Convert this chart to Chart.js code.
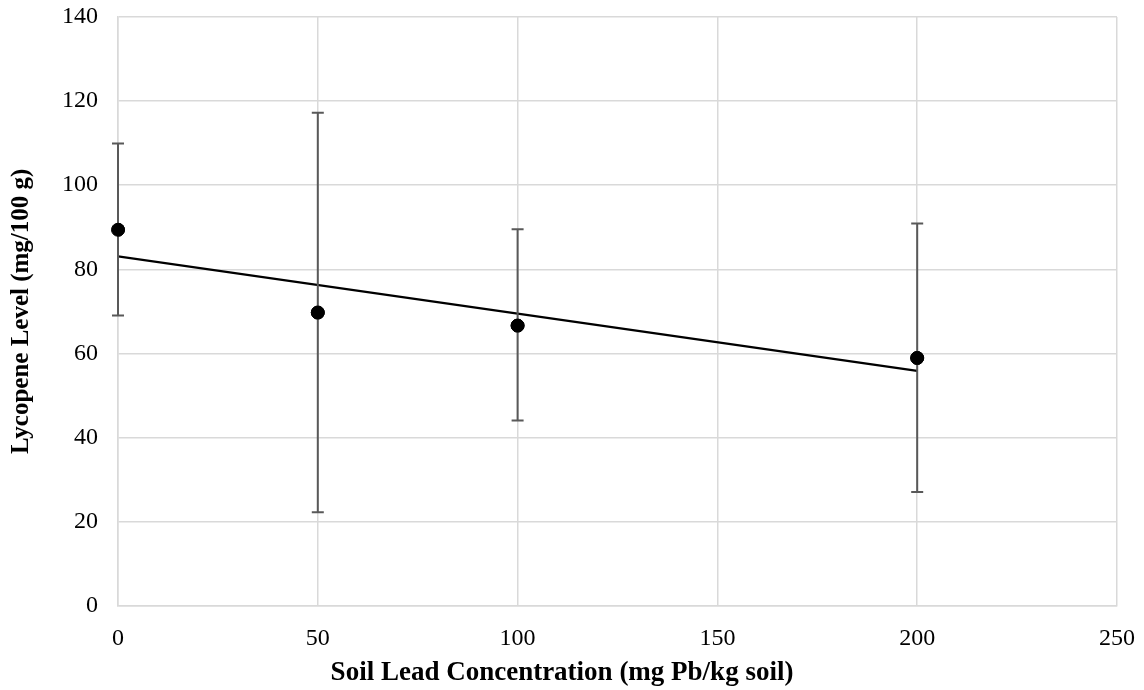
<!DOCTYPE html>
<html>
<head>
<meta charset="utf-8">
<script src="https://cdn.jsdelivr.net/npm/chart.js@4.4.1/dist/chart.umd.min.js"></script>
<style>
html,body{margin:0;padding:0;background:#fff;}
#wrap{width:1144px;height:690px;position:relative;}
</style>
</head>
<body>
<div id="wrap"><canvas id="c" width="1144" height="690"></canvas></div>
<script>
const leadConc = [0, 50, 100, 200];
const lycopene = [89.4, 69.7, 66.6, 58.9];
const errLow = [69.0, 22.2, 44.0, 27.0];
const errHigh = [109.9, 117.2, 89.5, 90.9];
const xTicks = [0, 50, 100, 150, 200, 250];
const yTicks = [0, 20, 40, 60, 80, 100, 120, 140];

// linear trendline (least squares) through the data
const n = leadConc.length;
const mx = leadConc.reduce((a,b)=>a+b,0)/n;
const my = lycopene.reduce((a,b)=>a+b,0)/n;
let sxy=0,sxx=0;
for(let i=0;i<n;i++){sxy+=(leadConc[i]-mx)*(lycopene[i]-my);sxx+=(leadConc[i]-mx)**2;}
const slope=sxy/sxx, icpt=my-slope*mx;
const trendX=[leadConc[0], leadConc[n-1]];

const errorBars = {
  id:'errorBars',
  afterDatasetsDraw(chart){
    const {ctx, scales:{x,y}} = chart;
    ctx.save();
    ctx.strokeStyle='#595959';
    ctx.lineWidth=2;
    for(let i=0;i<n;i++){
      const px=x.getPixelForValue(leadConc[i]);
      const yl=y.getPixelForValue(errLow[i]);
      const yh=y.getPixelForValue(errHigh[i]);
      ctx.beginPath();
      ctx.moveTo(px,yl);ctx.lineTo(px,yh);
      ctx.moveTo(px-6,yl);ctx.lineTo(px+6,yl);
      ctx.moveTo(px-6,yh);ctx.lineTo(px+6,yh);
      ctx.stroke();
    }
    ctx.restore();
    const meta=chart.getDatasetMeta(1);
    meta.data.forEach(el=>el.draw(ctx));
  }
};

const font = 'Liberation Serif';
new Chart(document.getElementById('c'), {
  type:'scatter',
  data:{
    datasets:[
      {
        type:'line',
        data: trendX.map(v=>({x:v,y:icpt+slope*v})),
        borderColor:'#000',
        borderWidth:2.4,
        pointRadius:0,
        fill:false,
        order:2
      },
      {
        data: leadConc.map((v,i)=>({x:v,y:lycopene[i]})),
        backgroundColor:'#000',
        borderColor:'#000',
        pointRadius:6.5,
        pointHoverRadius:6.5,
        order:1
      }
    ]
  },
  options:{
    responsive:false,
    animation:false,
    events:[],
    layout:{padding:{left:7,right:27,top:17,bottom:0}},
    plugins:{
      legend:{display:false},
      tooltip:{enabled:false},
      title:{display:true,position:'bottom',text:'Soil Lead Concentration (mg Pb/kg soil)',font:{family:font,size:27,weight:'bold'},color:'#000',padding:{top:0,bottom:1}}
    },
    scales:{
      x:{
        type:'linear',min:0,max:250,
        afterBuildTicks(s){s.ticks=xTicks.map(v=>({value:v}));},
        afterFit(s){s.height=51;s.paddingLeft=0;s.paddingRight=0;},
        grid:{color:'#d9d9d9',lineWidth:1.5,drawTicks:false},
        border:{color:'#d9d9d9',width:1.5},
        ticks:{font:{family:font,size:24},color:'#000',padding:19}
      },
      y:{
        type:'linear',min:0,max:140,
        afterBuildTicks(s){s.ticks=yTicks.map(v=>({value:v}));},
        afterFit(s){s.width=111;s.paddingTop=0;s.paddingBottom=0;},
        grid:{color:'#d9d9d9',lineWidth:1.5,drawTicks:false},
        border:{color:'#d9d9d9',width:1.5},
        ticks:{font:{family:font,size:24},color:'#000',padding:20},
        title:{display:true,text:'Lycopene Level (mg/100 g)',font:{family:font,size:25,weight:'bold'},color:'#000',padding:{top:0,bottom:4}}
      }
    }
  },
  plugins:[errorBars]
});
</script>
</body>
</html>
